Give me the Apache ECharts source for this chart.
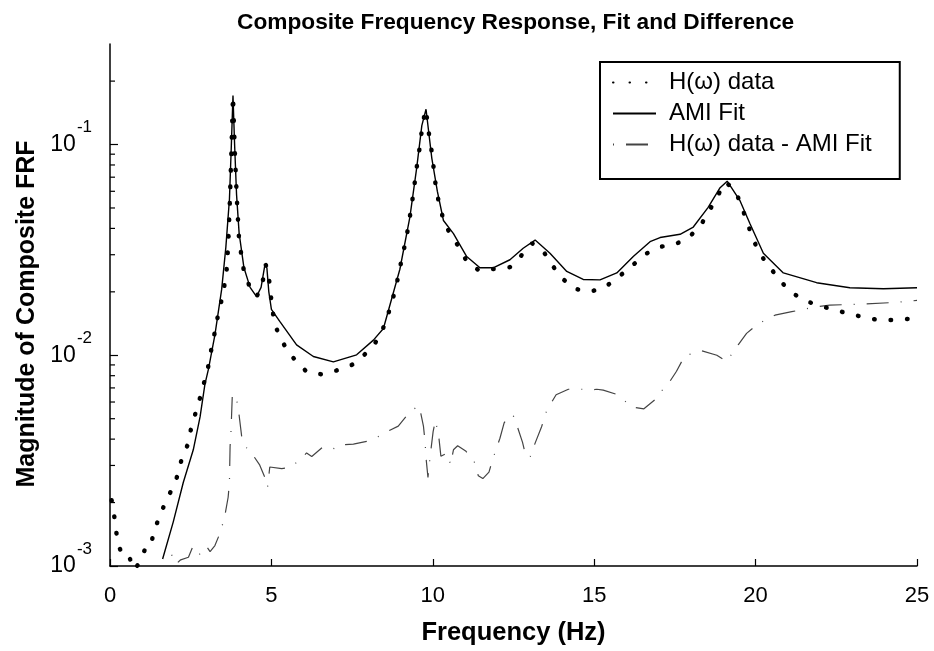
<!DOCTYPE html>
<html>
<head>
<meta charset="utf-8">
<script src="https://cdn.jsdelivr.net/npm/echarts@6/dist/echarts.min.js"></script>
<style>
  html, body { margin: 0; padding: 0; background: #fff; }
  #chart { width: 934px; height: 651px; }
</style>
</head>
<body>
<div id="chart"></div>
<script>
// measured FRF magnitude (dotted)
var dataFreq = [0.05, 0.13, 0.19, 0.28, 0.41, 0.58, 0.75, 0.94, 1.10, 1.26, 1.36, 1.53, 1.72, 1.91, 2.10, 2.22, 2.41, 2.51, 2.65, 2.79,
  2.92, 3.04, 3.13, 3.23, 3.32, 3.43, 3.53, 3.61, 3.66, 3.71, 3.76, 3.81, 3.87, 3.93, 4.00, 4.15, 4.34, 4.54, 4.70, 4.82,
  4.90, 4.97, 5.03, 5.11, 5.30, 5.55, 5.78, 6.10, 6.58, 7.02, 7.51, 7.88, 8.21, 8.45, 8.62, 8.76, 8.88, 8.98, 9.09, 9.19,
  9.27, 9.35, 9.42, 9.48, 9.55, 9.63, 9.67, 9.79, 9.84, 9.91, 9.99, 10.04, 10.10, 10.20, 10.35, 10.53, 10.82, 11.05, 11.44, 11.91,
  12.39, 12.73, 13.08, 13.45, 13.71, 14.02, 14.38, 14.85, 15.31, 15.85, 16.21, 16.60, 17.04, 17.53, 17.97, 18.31, 18.57, 18.80, 19.08, 19.39,
  19.57, 19.74, 19.90, 20.11, 20.39, 20.70, 21.01, 21.43, 21.89, 22.36, 22.84, 23.32, 23.80, 24.32, 24.80, 25.00];
var dataMag = [0.00205, 0.00173, 0.00146, 0.00123, 0.00112, 0.00112, 0.00096, 0.00105, 0.00122, 0.00124, 0.00146, 0.00171, 0.00201, 0.00230, 0.00270, 0.00322, 0.00377, 0.00448, 0.00532, 0.00629,
  0.00747, 0.00881, 0.0105, 0.0125, 0.0148, 0.0175, 0.0208, 0.0250, 0.0330, 0.0520, 0.0920, 0.170, 0.0900, 0.0550, 0.0350, 0.0250, 0.0209, 0.0190, 0.0210, 0.0270,
  0.0250, 0.0200, 0.0165, 0.0139, 0.0119, 0.0102, 0.00935, 0.00832, 0.00811, 0.00847, 0.00903, 0.01005, 0.0114, 0.0133, 0.0157, 0.0185, 0.0218, 0.0260, 0.0310, 0.0367,
  0.0436, 0.0521, 0.0624, 0.0738, 0.0877, 0.105, 0.124, 0.147, 0.124, 0.105, 0.0877, 0.0738, 0.0620, 0.0520, 0.0430, 0.0378, 0.0325, 0.0279, 0.0252, 0.0257,
  0.0262, 0.0296, 0.0340, 0.0307, 0.0266, 0.0231, 0.0207, 0.0200, 0.0209, 0.0242, 0.0269, 0.0303, 0.0327, 0.0337, 0.0367, 0.0416, 0.0486, 0.0565, 0.0663, 0.0596,
  0.0507, 0.0428, 0.0362, 0.0307, 0.0267, 0.0233, 0.0204, 0.0185, 0.0173, 0.0166, 0.0158, 0.0152, 0.0147, 0.0147, 0.0149, 0.0150];

// AMI fit (solid)
var fitFreq = [1.63, 1.96, 2.27, 2.58, 2.79, 2.94, 3.05, 3.25, 3.46, 3.59, 3.70, 3.76, 3.81, 3.86, 3.92, 4.00, 4.15, 4.34, 4.54, 4.68,
  4.80, 4.86, 4.92, 5.00, 5.27, 5.78, 6.30, 6.92, 7.64, 8.16, 8.47, 8.98, 9.29, 9.50, 9.66, 9.79, 9.97, 10.14, 10.33, 10.64,
  11.05, 11.46, 11.87, 12.39, 12.80, 13.17, 13.63, 14.15, 14.66, 15.18, 15.70, 16.21, 16.73, 17.04, 17.66, 18.07, 18.53, 18.90, 19.12, 19.52,
  19.83, 20.24, 20.86, 21.89, 22.92, 23.96, 25.00];
var fitMag = [0.00108, 0.00162, 0.00249, 0.00356, 0.00510, 0.00728, 0.00860, 0.0125, 0.0206, 0.0327, 0.0550, 0.100, 0.171, 0.100, 0.0580, 0.0380, 0.0260, 0.0210, 0.0190, 0.0210,
  0.0269, 0.0260, 0.0200, 0.0165, 0.0144, 0.0112, 0.00987, 0.00930, 0.01005, 0.0118, 0.0134, 0.0256, 0.0452, 0.0773, 0.123, 0.147, 0.0860, 0.0601, 0.0436, 0.0378,
  0.0294, 0.0260, 0.0260, 0.0284, 0.0322, 0.0352, 0.0305, 0.0250, 0.0229, 0.0228, 0.0246, 0.0294, 0.0346, 0.0362, 0.0375, 0.0406, 0.0503, 0.0624, 0.0670, 0.0540,
  0.0420, 0.0305, 0.0246, 0.0221, 0.0209, 0.0207, 0.0209];

// difference |H - fit| (dash-dot)
var diffFreq = [1.91, 2.04, 2.19, 2.43, 2.55, 2.63, 2.81, 2.99, 3.10, 3.25, 3.43, 3.56, 3.66, 3.70, 3.72, 3.75, 3.79, 3.92, 4.00, 4.08,
  4.28, 4.44, 4.63, 4.80, 4.88, 4.95, 5.32, 5.58, 5.89, 6.09, 6.25, 6.61, 7.02, 7.23, 7.54, 7.95, 8.42, 8.67, 8.93, 9.24,
  9.55, 9.63, 9.71, 9.76, 9.79, 9.85, 9.88, 9.93, 10.01, 10.08, 10.18, 10.25, 10.45, 10.55, 10.64, 10.77, 11.03, 11.28, 11.41, 11.55,
  11.74, 11.87, 12.08, 12.21, 12.37, 12.49, 12.62, 12.78, 12.89, 13.02, 13.17, 13.37, 13.53, 13.82, 14.20, 14.66, 14.87, 15.08, 15.28, 15.67,
  16.00, 16.16, 16.54, 16.91, 17.04, 17.30, 17.55, 17.81, 18.07, 18.33, 18.80, 19.10, 19.46, 19.72, 20.08, 20.60, 21.12, 21.79, 22.30, 23.34,
  24.27, 25.00];
var diffMag = [0.00113, 0.00102, 0.00107, 0.00110, 0.00122, 0.00113, 0.00114, 0.00124, 0.00117, 0.00125, 0.00146, 0.00174, 0.00212, 0.00249, 0.00369, 0.00441, 0.00654, 0.00620, 0.00519, 0.00411,
  0.00350, 0.00334, 0.00303, 0.00263, 0.00236, 0.00295, 0.00290, 0.00293, 0.00320, 0.00344, 0.00331, 0.00369, 0.00359, 0.00376, 0.00379, 0.00390, 0.00418, 0.00441, 0.00461, 0.00528,
  0.00577, 0.00528, 0.00461, 0.00390, 0.00326, 0.00263, 0.00293, 0.00344, 0.00434, 0.00491, 0.00418, 0.00332, 0.00344, 0.00303, 0.00356, 0.00372, 0.00350, 0.00314, 0.00268, 0.00260,
  0.00279, 0.00326, 0.00404, 0.00478, 0.00519, 0.00519, 0.00458, 0.00386, 0.00329, 0.00331, 0.00383, 0.00458, 0.00547, 0.00650, 0.00690, 0.00690, 0.00683, 0.00690, 0.00683, 0.00654,
  0.00598, 0.00568, 0.00557, 0.00620, 0.00666, 0.00734, 0.00840, 0.00998, 0.0102, 0.0105, 0.0100, 0.00935, 0.0112, 0.0127, 0.0141, 0.0155, 0.0161, 0.0169, 0.0173, 0.0175,
  0.0178, 0.0182];

var minorTickVals = [0.002, 0.003, 0.004, 0.005, 0.006, 0.007, 0.008, 0.009,
  0.02, 0.03, 0.04, 0.05, 0.06, 0.07, 0.08, 0.09, 0.2];

var seriesNames = ['H(\u03c9) data', 'AMI Fit', 'H(\u03c9) data - AMI Fit'];

function zip(xs, ys) {
  var out = [];
  for (var i = 0; i < xs.length; i++) out.push([xs[i], ys[i]]);
  return out;
}

var FONT = '"Liberation Sans", Arial, Helvetica, sans-serif';

var chart = echarts.init(document.getElementById('chart'), null, { renderer: 'canvas' });
var option = {
  animation: false,
  backgroundColor: '#fff',
  color: ['#000', '#000', '#444'],
  textStyle: { fontFamily: FONT, color: '#000' },
  title: {
    text: 'Composite Frequency Response, Fit and Difference',
    left: 232, top: 6,
    textStyle: { fontFamily: FONT, fontSize: 22.7, fontWeight: 'bold', color: '#000' }
  },
  grid: { left: 110, right: 17, top: 44, bottom: 76, containLabel: false },
  legend: {
    data: seriesNames,
    orient: 'vertical',
    left: 600, top: 62,
    padding: [8, 28, 22, 12],
    itemGap: 6,
    itemWidth: 43, itemHeight: 14,
    borderColor: '#000', borderWidth: 2,
    backgroundColor: '#fff',
    itemStyle: { opacity: 0 },
    textStyle: { fontFamily: FONT, fontSize: 24, color: '#000', lineHeight: 25, padding: [0, 0, 0, 8] }
  },
  xAxis: {
    type: 'value', min: 0, max: 25, interval: 5,
    name: 'Frequency (Hz)', nameLocation: 'middle', nameGap: 54,
    nameTextStyle: { fontFamily: FONT, fontSize: 25.5, fontWeight: 'bold', color: '#000' },
    axisLine: { lineStyle: { color: '#000', width: 1.5 } },
    axisTick: { inside: true, length: 7, lineStyle: { color: '#000', width: 1.2 } },
    axisLabel: { fontFamily: FONT, fontSize: 22, color: '#000', margin: 19 },
    splitLine: { show: false }
  },
  yAxis: {
    type: 'log', logBase: 10, min: 0.001, max: 0.3,
    name: 'Magnitude of Composite FRF', nameLocation: 'middle', nameGap: 70,
    nameTextStyle: { fontFamily: FONT, fontSize: 25, fontWeight: 'bold', color: '#000', padding: [0, 18, 0, 0] },
    axisLine: { show: true, lineStyle: { color: '#000', width: 1.5 } },
    axisTick: { inside: true, length: 8, lineStyle: { color: '#000', width: 1.2 } },
    axisLabel: {
      showMaxLabel: false,
      margin: 18,
      formatter: function (v) {
        var e = Math.log(v) / Math.LN10;
        if (Math.abs(e - Math.round(e)) > 1e-6) return '';
        return '{b|10}{s|' + Math.round(e) + '}';
      },
      rich: {
        b: { fontFamily: FONT, fontSize: 23, color: '#000' },
        s: { fontFamily: FONT, fontSize: 17, color: '#000', padding: [0, 0, 34, 1] }
      }
    },
    splitLine: { show: false }
  },
  series: [
    {
      name: seriesNames[0], type: 'line', data: zip(dataFreq, dataMag),
      showSymbol: false, symbol: 'none', z: 3,
      itemStyle: { color: '#000' },
      lineStyle: { color: '#000', width: 4.5, type: [0.5, 16], cap: 'round' }
    },
    {
      name: seriesNames[1], type: 'line', data: zip(fitFreq, fitMag),
      showSymbol: false, symbol: 'none', z: 4,
      itemStyle: { color: '#000' },
      lineStyle: { color: '#000', width: 1.4 }
    },
    {
      name: seriesNames[2], type: 'line', data: zip(diffFreq, diffMag),
      showSymbol: false, symbol: 'none', z: 2,
      itemStyle: { color: '#444' },
      lineStyle: { color: '#444', width: 1.2, type: [1, 12, 22, 12] }
    },
    {
      name: 'minorTicks', type: 'custom', silent: true, z: 5,
      data: minorTickVals.map(function (v) { return [0, v]; }),
      renderItem: function (params, api) {
        var p = api.coord([api.value(0), api.value(1)]);
        return {
          type: 'line',
          shape: { x1: p[0], y1: p[1], x2: p[0] + 5, y2: p[1] },
          style: { stroke: '#000', lineWidth: 1.2 }
        };
      }
    }
  ]
};
chart.setOption(option);
</script>
</body>
</html>
